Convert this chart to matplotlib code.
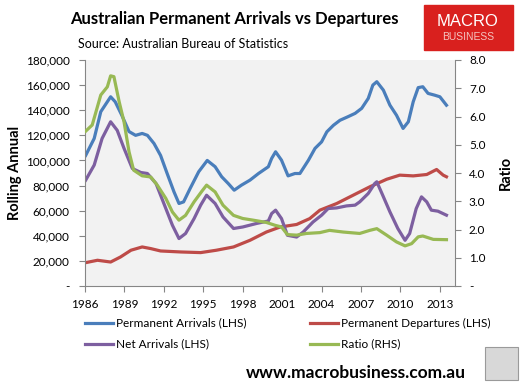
import matplotlib
matplotlib.use('Agg')
import matplotlib.pyplot as plt
from matplotlib.patches import Rectangle
from matplotlib.ticker import FuncFormatter

# values (year, persons / ratio)
arr_year = [1986.05, 1986.7, 1987.2, 1987.95, 1988.3, 1988.8, 1989.35, 1989.85,
            1990.35, 1990.75, 1991.25, 1991.75, 1992.25, 1992.77, 1993.15, 1993.5,
            1994.0, 1994.65, 1995.3, 1995.9, 1996.4, 1996.9, 1997.35, 1997.9,
            1998.55, 1999.2, 1999.95, 2000.2, 2000.5, 2000.95, 2001.45, 2001.97,
            2002.35, 2003.0, 2003.5, 2004.0, 2004.4, 2004.9, 2005.4, 2006.0,
            2006.55, 2007.05, 2007.55, 2007.9, 2008.2, 2008.7, 2009.2, 2009.7,
            2010.2, 2010.6, 2010.97, 2011.35, 2011.7, 2012.1, 2012.6, 2013.0, 2013.5]
arrivals = [104, 117.5, 138.8, 150.7, 146.7, 136, 123, 120,
            121.5, 120, 113.5, 104, 89.6, 75, 65.7, 67,
            77.7, 91, 100, 95, 87, 81.6, 76.3, 80.3,
            84.3, 89.6, 95, 101.6, 106.9, 100.2, 87.7, 89.6,
            89.6, 100.2, 109.6, 114.8, 122.8, 128, 132, 134.8,
            137.5, 141.5, 149.4, 160, 162.7, 156, 144, 136,
            125.5, 130.8, 146.7, 158, 158.7, 153.4, 152, 150.7, 144]

dep_year = [1986.05, 1986.95, 1987.95, 1988.7, 1989.5, 1990.35, 1991.0, 1991.75,
            1993.3, 1994.8, 1996.0, 1997.3, 1998.55, 1999.8, 2000.85, 2002.1,
            2003.1, 2003.87, 2004.5, 2005.15, 2006.4, 2007.67, 2008.95, 2009.95,
            2010.97, 2012.0, 2012.75, 2013.25, 2013.5]
departures = [18.6, 20.5, 19.1, 23.1, 28.5, 31.1, 29.8, 27.9,
              27.1, 26.6, 28.5, 31.1, 36.4, 43, 47, 49,
              53.7, 60.4, 63, 65.7, 72.3, 79, 85, 88.3,
              87.7, 88.8, 92.8, 88.3, 87]

net_year = [1986.05, 1986.7, 1987.3, 1987.95, 1988.45, 1988.97, 1989.6, 1990.25,
            1990.75, 1991.4, 1992.0, 1992.65, 1993.15, 1993.65, 1994.3, 1994.8,
            1995.25, 1995.9, 1996.5, 1997.3, 1998.0, 1999.05, 1999.95, 2000.2,
            2000.5, 2000.95, 2001.4, 2002.1, 2002.6, 2003.35, 2004.0, 2004.5,
            2005.15, 2005.9, 2006.55, 2006.9, 2007.55, 2008.05, 2008.2, 2008.65,
            2009.2, 2009.8, 2010.35, 2010.7, 2011.2, 2011.6, 2012.0, 2012.35,
            2012.85, 2013.5]
net = [84.3, 96.3, 117.5, 130.8, 124, 109.6, 93.6, 90.4,
       89.6, 81.7, 65.7, 48.4, 37.8, 41.8, 53.7, 64.4,
       72.3, 65.7, 55, 45.8, 47, 49.8, 51.8, 57.7,
       60.4, 53.7, 40.4, 39, 43, 51, 56.4, 61.7,
       62.2, 63.8, 64.4, 67, 73.7, 81.7, 83, 72.3,
       59, 45.8, 36.4, 41.8, 61.7, 71, 67, 60.4,
       59.6, 56.4]

ratio_year = [1986.05, 1986.55, 1987.2, 1987.7, 1987.95, 1988.2, 1988.6, 1988.97,
              1989.35, 1989.7, 1990.35, 1991.0, 1991.5, 1992.15, 1992.65, 1993.15,
              1993.65, 1994.3, 1994.9, 1995.25, 1995.9, 1996.5, 1997.3, 1998.0,
              1998.8, 1999.8, 2000.45, 2000.95, 2001.4, 2002.1, 2002.85, 2003.87,
              2004.6, 2005.65, 2006.9, 2007.67, 2008.2, 2008.95, 2009.7, 2010.35,
              2010.85, 2011.35, 2011.7, 2012.5, 2013.5]
ratio = [5.48, 5.7, 6.76, 7.05, 7.44, 7.41, 6.52, 5.81,
         4.75, 4.1, 3.9, 3.86, 3.57, 3.1, 2.62, 2.33,
         2.5, 2.98, 3.36, 3.57, 3.33, 2.86, 2.5, 2.39,
         2.33, 2.25, 2.15, 2.09, 1.82, 1.8, 1.86, 1.89,
         1.97, 1.91, 1.86, 1.97, 2.03, 1.8, 1.56, 1.42,
         1.5, 1.74, 1.77, 1.65, 1.64]

year_ticks = list(range(1986, 2014, 3))

plt.rcParams['font.family'] = ['Lato', 'DejaVu Sans']
grey = '#868686'

fig = plt.figure(figsize=(5.24, 3.82), dpi=100)
ax = fig.add_axes([85/524, 1 - 286/382, 370/524, 226/382])
ax.set_facecolor('#f2f2f2')

k = 1000
l1, = ax.plot(arr_year, [v*k for v in arrivals], color='#4a7ebb', lw=2.3)
l2, = ax.plot(dep_year, [v*k for v in departures], color='#be4b48', lw=2.3)
l3, = ax.plot(net_year, [v*k for v in net], color='#7d5fa0', lw=2.3)

ax2 = ax.twinx()
l4, = ax2.plot(ratio_year, ratio, color='#98b954', lw=2.3)

ax.set_xlim(1986, 2014.15)
ax.set_ylim(0, 180000)
ax2.set_ylim(0, 8)
ax.set_yticks(range(0, 180001, 20000))
ax2.set_yticks(range(0, 9))
ax.set_xticks(year_ticks)
ax.yaxis.set_major_formatter(FuncFormatter(lambda v, p: '-' if v == 0 else f'{int(v):,}'))
ax2.yaxis.set_major_formatter(FuncFormatter(lambda v, p: '-' if v == 0 else f'{v:.1f}'))

for a in (ax, ax2):
    a.spines['top'].set_visible(False)
    for s in ('left', 'right', 'bottom'):
        a.spines[s].set_color(grey)
    a.tick_params(colors=grey, labelcolor='black', labelsize=8.5, length=4)
ax2.spines['left'].set_visible(False)
ax2.spines['bottom'].set_visible(False)
ax.spines['right'].set_visible(False)
ax.tick_params(axis='y', pad=7)
ax.tick_params(axis='x', pad=5)
ax2.tick_params(axis='y', pad=6)

ax.set_ylabel('Rolling Annual', fontsize=10.5, fontweight='bold', labelpad=3)
ax2.set_ylabel('Ratio', fontsize=10.5, fontweight='bold', labelpad=10)

fig.text(234/524, 1 - 19/382, 'Australian Permanent Arrivals vs Departures',
         ha='center', va='center', fontsize=12, fontweight='bold')
fig.text(78/524, 1 - 44/382, 'Source: Australian Bureau of Statistics',
         ha='left', va='center', fontsize=9)

fig.legend([l1, l3, l2, l4],
           ['Permanent Arrivals (LHS)', 'Net Arrivals (LHS)',
            'Permanent Departures (LHS)', 'Ratio (RHS)'],
           ncol=2, loc='upper left', bbox_to_anchor=(74/524, 1 - 307/382),
           frameon=False, fontsize=8.5, handlelength=2.4, handletextpad=0.25,
           columnspacing=5.4, labelspacing=0.85)

# logo block
fig.patches.append(Rectangle((424/524, 1 - 50/382), 89/524, 45/382,
                             transform=fig.transFigure, color='#d9201e', zorder=0))
fig.text(468/524, 1 - 21/382, 'MACRO', color='white', ha='center', va='center',
         fontsize=12, family=['Liberation Sans', 'DejaVu Sans'])
fig.text(468/524, 1 - 37/382, 'BUSINESS', color='#f4c4c0', ha='center', va='center',
         fontsize=7.5, family=['Liberation Sans', 'DejaVu Sans'])

fig.text(356/524, 1 - 373/382, 'www.macrobusiness.com.au', ha='center', va='center',
         fontsize=12.5, fontweight='bold')
fig.patches.append(Rectangle((485/524, 1 - 380/382), 33/524, 33/382,
                             transform=fig.transFigure, facecolor='#d8d8d8',
                             edgecolor='#9a9a9a', lw=0.8))

fig.savefig('out.png', dpi=100)
